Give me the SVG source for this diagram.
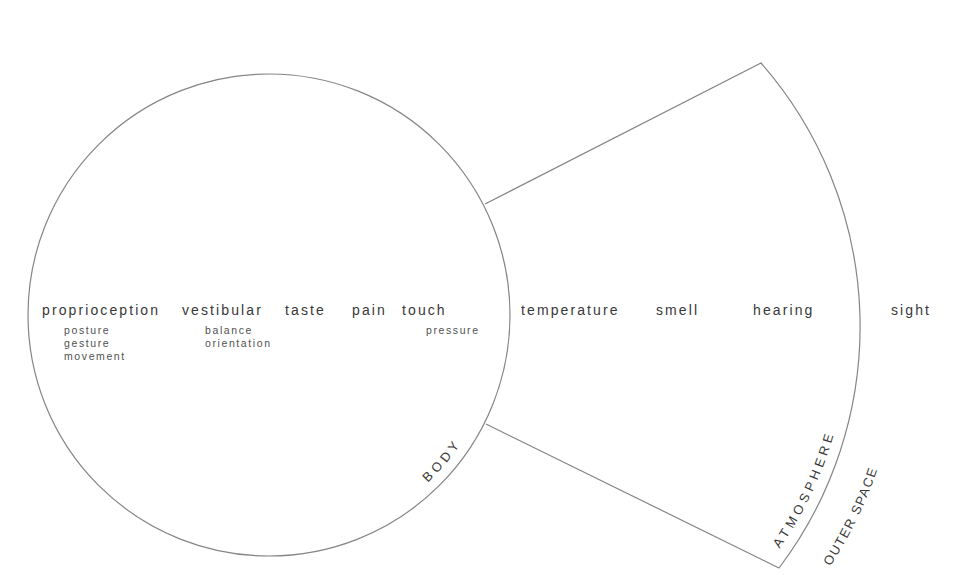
<svg xmlns="http://www.w3.org/2000/svg" xmlns:xlink="http://www.w3.org/1999/xlink" width="956" height="575" viewBox="0 0 956 575">
<style>
.ln{fill:none;stroke:#858585;stroke-width:1.2}
.m{font-family:"Liberation Sans",Arial,sans-serif;font-size:14px;letter-spacing:2.1px;fill:#383838}
.s{font-family:"Liberation Sans",Arial,sans-serif;font-size:10.5px;letter-spacing:1.6px;fill:#505050}
.z{font-family:"Liberation Sans",Arial,sans-serif;font-size:13px;fill:#3a3a3a}
</style>
<defs>
<path id="pBody" d="M401.5,504.2 A231,231 0 0 0 496.5,355.1"/>
<path id="pAtm" d="M766.5,566.5 A389,389 0 0 0 825.5,194"/>
<path id="pOut" d="M816.8,586.2 A441,441 0 0 0 894.3,250.4"/>
</defs>
<rect width="956" height="575" fill="#fff"/>
<g id="connectors">
<path class="ln" d="M485,204 L761,63 A400,400 0 0 1 779,568 L486,424"/>
</g>
<g id="body">
<circle class="ln" cx="269" cy="315" r="241"/>
<text class="z" letter-spacing="4"><textPath xlink:href="#pBody" startOffset="34">BODY</textPath></text>
</g>
<g id="atmosphere">
<text class="z" font-size="13.5" letter-spacing="4"><textPath xlink:href="#pAtm" startOffset="22">ATMOSPHERE</textPath></text>
</g>
<g id="outer-space">
<text class="z" letter-spacing="1.5"><textPath xlink:href="#pOut" startOffset="24">OUTER SPACE</textPath></text>
</g>
<g id="proprioception">
<text class="m" x="42" y="315">proprioception</text>
<text class="s" x="64" y="334">posture</text>
<text class="s" x="64" y="347">gesture</text>
<text class="s" x="64" y="360">movement</text>
</g>
<g id="vestibular">
<text class="m" x="182" y="315">vestibular</text>
<text class="s" x="205" y="334">balance</text>
<text class="s" x="205" y="347">orientation</text>
</g>
<g id="taste"><text class="m" x="285" y="315">taste</text></g>
<g id="pain"><text class="m" x="352" y="315">pain</text></g>
<g id="touch">
<text class="m" x="402" y="315">touch</text>
<text class="s" x="426" y="334">pressure</text>
</g>
<g id="temperature"><text class="m" x="521" y="315">temperature</text></g>
<g id="smell"><text class="m" x="656" y="315">smell</text></g>
<g id="hearing"><text class="m" x="753" y="315">hearing</text></g>
<g id="sight"><text class="m" x="891" y="315">sight</text></g>
</svg>
